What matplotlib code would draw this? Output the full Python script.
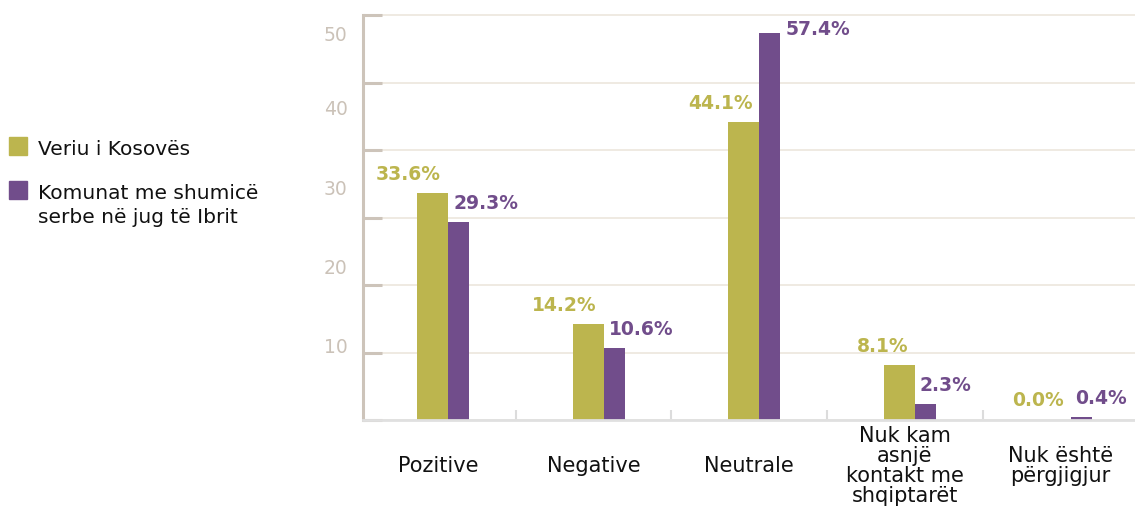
import numpy as np
import matplotlib
matplotlib.use("Agg")
import matplotlib.pyplot as plt
from matplotlib.patches import Rectangle
from matplotlib.ticker import FixedLocator, FixedFormatter, NullFormatter

# Data
categories = ["Pozitive", "Negative", "Neutrale",
              "Nuk kam\nasnjë\nkontakt me\nshqiptarët", "Nuk është\npërgjigjur"]
north = [33.6, 14.2, 44.1, 8.1, 0.0]
south = [29.3, 10.6, 57.4, 2.3, 0.4]
series_names = ["Veriu i Kosovës", "Komunat me shumicë\nserbe në jug të Ibrit"]
ytick_values = [10, 20, 30, 40, 50]

olive = "#bcb54e"
purple = "#714d8b"
taupe = "#cdc4ba"
colors = [olive, purple]

fig = plt.figure(figsize=(11.35, 5.08), dpi=100)
ax = fig.add_axes([363 / 1135, 88 / 508, 772 / 1135, 411.75 / 508])

x = np.arange(len(categories))
b1 = ax.bar(x - 0.135, north, width=0.2, align="edge", color=olive, zorder=3)
b2 = ax.bar(x + 0.065, south, width=0.135, align="edge", color=purple, zorder=3)

ax.set_xlim(-0.482, 4.479)
ax.set_ylim(0, 61)

# value labels
for rect, v in zip(b1, north):
    ax.annotate(f"{v:.1f}%", (rect.get_x() + rect.get_width(), v),
                xytext=(-5, 13.7), textcoords="offset points", ha="right", va="center",
                fontsize=13.5, fontweight="heavy", color=olive)
for rect, v in zip(b2, south):
    if v > 52:
        ax.annotate(f"{v:.1f}%", (rect.get_x() + rect.get_width(), v),
                    xytext=(3.6, 2), textcoords="offset points", ha="left", va="center",
                    fontsize=13.5, fontweight="heavy", color=purple)
    else:
        ax.annotate(f"{v:.1f}%", (rect.get_x(), v),
                    xytext=(3.6, 13.7), textcoords="offset points", ha="left", va="center",
                    fontsize=13.5, fontweight="heavy", color=purple)

# y axis: gridlines every 10, labels sit a bit off the grid as in the source
ax.yaxis.set_major_locator(FixedLocator([0, 10, 20, 30, 40, 50, 60]))
ax.yaxis.set_major_formatter(NullFormatter())
ax.yaxis.set_minor_locator(FixedLocator([11, 22.8, 34.4, 46.3, 57.2]))
ax.yaxis.set_minor_formatter(FixedFormatter([str(v) for v in ytick_values]))
ax.tick_params(axis="y", which="major", direction="in", length=13.7, width=2.2, color=taupe)
ax.tick_params(axis="y", which="minor", length=0, pad=11, labelsize=13.5, labelcolor="#cbc2b8")
ax.yaxis.grid(True, which="major", color="#ebe4da", linewidth=1.1)
ax.set_axisbelow(True)

# x axis
ax.set_xticks(x)
ax.set_xticklabels(categories)
ax.xaxis.set_minor_locator(FixedLocator([0.5, 1.5, 2.5, 3.5]))
ax.tick_params(axis="x", which="major", length=0, pad=33, labelsize=15, labelcolor="#111111")
ax.tick_params(axis="x", which="minor", direction="in", length=7, width=1.5, color="#dcdcdc")
for lbl in ax.get_xticklabels():
    lbl.set_va("center")
    lbl.set_linespacing(1.0)

for s in ["top", "right"]:
    ax.spines[s].set_visible(False)
ax.spines["left"].set_color(taupe)
ax.spines["left"].set_linewidth(2.2)
ax.spines["left"].set_bounds(0, 60)
ax.spines["bottom"].set_color("#e0e0e0")
ax.spines["bottom"].set_linewidth(2)
ax.spines["left"].set_zorder(4)
ax.spines["bottom"].set_zorder(4)

# legend drawn by hand (square + text), top-left
W, H = 1135, 508
for i, (name, c) in enumerate(zip(series_names, colors)):
    top = 137 + 44 * i
    fig.add_artist(Rectangle((9 / W, (H - top - 18) / H), 18 / W, 18 / H,
                             transform=fig.transFigure, color=c))
    fig.text(38 / W, (H - top - 3) / H, name, fontsize=14.5, color="#111111",
             va="top", ha="left", linespacing=1.33)

fig.savefig("out.png", dpi=100)
